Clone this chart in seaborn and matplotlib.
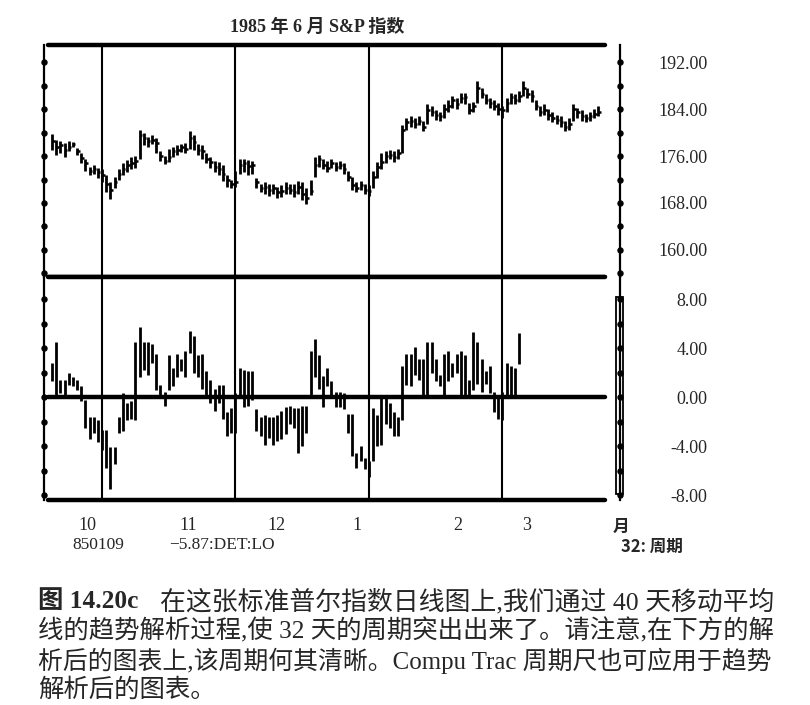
import numpy as np
import matplotlib
matplotlib.use("Agg")
import matplotlib.pyplot as plt
import seaborn as sns
from matplotlib.patches import Rectangle

# S&P daily bars (day 0 = first bar)
price_hi = [179.8, 178.8, 178.5, 178.2, 178.5, 178.4, 177.3, 176.5, 175.5, 174.2,
            174.5, 174.0, 173.8, 172.8, 171.5, 172.5, 173.8, 174.8, 175.3, 175.8,
            176.0, 180.5, 180.0, 179.3, 179.5, 179.0, 176.8, 176.0, 177.2, 177.5,
            177.8, 178.0, 178.2, 180.2, 179.5, 178.0, 177.8, 176.5, 175.8, 175.2,
            175.0, 174.5, 172.8, 172.0, 173.5, 175.5, 175.5, 175.3, 175.2, 172.2,
            171.3, 171.5, 171.2, 171.2, 170.8, 171.0, 171.5, 171.2, 171.2, 171.8,
            171.5, 170.5, 172.0, 175.8, 176.2, 175.5, 175.2, 175.5, 175.0, 175.2,
            174.8, 173.5, 172.5, 171.5, 171.8, 171.2, 171.0, 173.5, 175.0, 176.5,
            176.8, 177.0, 176.8, 177.2, 181.2, 182.5, 182.8, 182.5, 182.8, 182.0,
            184.8, 184.5, 183.8, 183.5, 184.8, 185.5, 186.2, 185.8, 186.8, 186.8,
            185.0, 185.2, 188.8, 187.5, 186.5, 185.8, 185.5, 185.0, 184.5, 185.8,
            186.8, 186.5, 187.0, 188.8, 187.5, 187.2, 185.5, 184.5, 184.8, 184.0,
            183.5, 183.0, 182.8, 182.0, 182.5, 184.8, 184.2, 183.8, 183.2, 183.5,
            184.0, 184.5]
price_lo = [177.0, 176.2, 176.5, 175.8, 176.8, 177.6, 176.2, 174.8, 173.5, 172.8,
            173.0, 172.2, 171.5, 169.8, 168.6, 170.5, 172.0, 172.8, 173.2, 173.8,
            174.0, 175.5, 177.8, 177.5, 178.0, 176.5, 175.2, 174.6, 175.0, 175.8,
            176.2, 176.6, 176.5, 177.2, 177.0, 176.2, 175.5, 174.8, 174.0, 173.2,
            172.8, 171.8, 170.8, 170.5, 170.8, 173.0, 173.2, 172.8, 173.0, 170.5,
            169.8, 169.5, 169.2, 169.5, 168.8, 169.0, 169.5, 169.5, 169.0, 169.5,
            168.5, 167.8, 169.3, 172.5, 174.2, 173.8, 173.2, 174.0, 173.5, 173.8,
            173.0, 171.8, 170.2, 169.8, 170.2, 169.5, 169.2, 170.5, 172.2, 173.8,
            174.8, 175.5, 175.0, 175.5, 176.5, 180.5, 181.0, 180.8, 181.2, 180.2,
            181.5, 182.8, 182.2, 182.0, 182.5, 183.5, 184.2, 184.0, 185.0, 184.8,
            183.2, 183.5, 185.0, 185.8, 184.8, 184.2, 183.8, 183.0, 182.5, 183.5,
            184.8, 184.8, 185.2, 186.2, 185.8, 185.2, 183.8, 182.8, 183.0, 182.2,
            181.8, 181.5, 181.0, 180.2, 180.5, 182.0, 182.5, 182.0, 181.8, 182.0,
            182.5, 182.8]
price_cl = [178.5, 177.5, 177.8, 177.0, 177.5, 178.0, 176.8, 175.6, 174.8, 173.5,
            173.8, 173.2, 172.8, 171.2, 170.2, 171.5, 173.0, 173.8, 174.5, 174.8,
            175.2, 179.5, 179.0, 178.5, 178.8, 178.2, 176.0, 175.2, 175.8, 176.8,
            177.0, 177.5, 177.2, 179.0, 178.3, 177.0, 176.8, 175.5, 175.0, 174.2,
            173.8, 173.0, 172.0, 171.2, 171.5, 174.5, 174.8, 174.3, 174.5, 171.5,
            170.5, 170.8, 170.2, 170.5, 169.8, 170.0, 170.5, 170.2, 169.8, 170.8,
            169.5, 168.8, 170.0, 174.5, 175.5, 174.5, 174.0, 174.8, 174.2, 174.5,
            173.8, 172.5, 171.0, 170.5, 171.0, 170.2, 170.0, 172.5, 174.2, 175.0,
            176.0, 176.2, 175.8, 176.5, 180.5, 181.8, 182.0, 181.5, 182.0, 181.0,
            183.8, 183.5, 183.0, 182.8, 184.0, 184.5, 185.5, 184.8, 185.8, 186.0,
            183.8, 184.5, 187.5, 186.5, 185.5, 185.0, 184.5, 184.0, 183.8, 185.0,
            186.0, 185.5, 186.2, 187.5, 186.5, 186.2, 184.5, 183.5, 183.8, 183.0,
            182.5, 182.2, 181.8, 181.0, 181.5, 184.0, 183.5, 182.8, 182.5, 182.8,
            183.2, 183.5]

# detrended bars (lower panel)
det_hi = [2.8, 4.5, 1.4, 1.4, 2.0, 1.6, 1.4, 0.9, -0.2, -1.6,
          -1.6, -1.9, -2.7, -2.7, -4.1, -4.1, -1.6, 0.3, -0.5, -0.3,
          4.5, 5.7, 4.5, 4.5, 4.3, 3.5, 1.0, 0.4, 3.4, 2.4,
          3.5, 3.1, 3.8, 5.4, 5.0, 3.4, 3.5, 2.1, 1.4, 0.7,
          1.0, 1.0, -1.2, -0.9, 0.3, 2.4, 2.25, 2.1, 2.1, -1.0,
          -1.6, -1.5, -1.6, -1.6, -1.5, -1.1, -0.8, -0.7, -0.9, -0.9,
          -0.7, -0.7, 3.8, 4.75, 3.4, 1.7, 2.4, 1.3, 0.4, 0.4,
          0.3, -1.4, -1.4, -4.6, -4.0, -5.0, -5.25, -0.9, -1.5, 0.0,
          0.0, -0.5, -1.2, -1.6, 2.5, 3.5, 3.5, 4.1, 3.1, 3.1,
          4.5, 4.5, 3.1, 1.8, 3.5, 3.8, 2.8, 3.5, 3.8, 3.4,
          1.4, 5.3, 4.5, 3.1, 2.1, 2.5, 0.4, 0.0, 0.4, 2.8,
          2.5, 2.4, 5.2]
det_lo = [1.3, 0.2, 0.3, -0.1, 1.0, 0.9, 0.6, -0.3, -2.5, -3.4,
          -2.9, -3.7, -4.3, -5.8, -7.5, -5.5, -2.9, -2.8, -1.9, -1.8,
          -1.9, 1.6, 2.2, 1.8, 2.8, 0.6, 0.2, -0.7, 0.6, 0.9,
          1.6, 2.1, 1.6, 3.6, 2.0, 1.6, 0.7, 0.2, -0.5, -1.1,
          -0.5, -1.8, -3.2, -2.9, -2.9, 0.0, -0.8, -0.7, -0.25, -2.75,
          -3.2, -3.9, -3.3, -3.9, -3.6, -3.4, -3.0, -2.2, -2.5, -4.55,
          -4.0, -2.9, 0.2, 1.6, 0.7, -0.8, 0.9, -0.1, -0.8, -0.8,
          -0.95, -2.9, -4.8, -5.8, -5.25, -5.9, -6.5, -5.25, -4.0, -3.9,
          -2.2, -2.5, -3.2, -3.2, -1.9, 1.0, 0.9, 1.8, 1.4, 0.2,
          0.2, 2.0, 1.3, 0.9, 0.2, 1.3, 1.6, 2.0, 0.2, 0.2,
          0.2, 0.6, 1.1, 0.4, 1.1, 0.3, -1.2, -1.8, -1.9, 0.2,
          0.2, 0.2, 2.7]

cycle_lows = [12, 44, 76, 108]
month_pos = [8.6, 32.6, 53.9, 73.1, 97.4, 113.9]
month_lbl = ["10", "11", "12", "1", "2", "3"]
price_ticks = [160, 168, 176, 184, 192]
det_ticks = [-8, -4, 0, 4, 8]

sns.set_theme(style="white")
plt.rcParams["font.family"] = ["Liberation Serif", "Noto Sans CJK SC"]
cjk = ["Noto Sans CJK SC", "DejaVu Sans"]

W, H = 810, 705
fig = plt.figure(figsize=(W / 100, H / 100), dpi=100)


def box(x0, y0, x1, y1):
    return [x0 / W, 1 - y1 / H, (x1 - x0) / W, (y1 - y0) / H]


ax1 = fig.add_axes(box(44, 45, 620, 277))
ax2 = fig.add_axes(box(44, 277, 620, 500))
xlim = (-1.92, 136.2)

days = np.arange(len(price_cl))
ax1.vlines(days, price_lo, price_hi, color="black", lw=2.0)
ax1.hlines(price_cl, days, days + 0.6, color="black", lw=1.8)
ax1.set_ylim(155.4, 194.9)

ddays = np.arange(len(det_hi))
ax2.vlines(ddays, det_lo, det_hi, color="black", lw=2.0)
ax2.set_ylim(-8.4, 9.8)

for ax, ticks, minor in [(ax1, price_ticks, np.arange(156, 193, 4)),
                         (ax2, det_ticks, np.arange(-8, 9, 2))]:
    ax.set_xlim(*xlim)
    sns.despine(ax=ax, top=True, bottom=True, left=False, right=False)
    for side in ["left", "right"]:
        ax.spines[side].set_color("black")
        ax.spines[side].set_linewidth(1.6)
    lo, hi = ax.get_ylim()
    for yv in [lo, hi]:
        ax.axhline(yv, xmin=0.007, xmax=0.974, color="black", lw=3.2, clip_on=False)
    for d in cycle_lows:
        ax.axvline(d, color="black", lw=1.5)
    tr = ax.get_yaxis_transform()
    for xs in [0, 1]:
        ax.plot(np.full(len(minor), xs), minor, "o", color="black", ms=3.6,
                transform=tr, clip_on=False)
    ax.yaxis.tick_right()
    ax.set_yticks(ticks)
    ax.set_yticklabels([f"{v:.2f}" for v in ticks])
    ax.tick_params(axis="y", length=0, pad=63, labelsize=13)
    for lbl in ax.get_yticklabels():
        lbl.set_horizontalalignment("right")
    ax.grid(False)

ax1.set_xticks([])
ax2.axhline(0, xmin=0.007, xmax=0.974, color="black", lw=3.2)
ax2.set_xticks(month_pos)
ax2.set_xticklabels(month_lbl)
ax2.tick_params(axis="x", length=0, pad=12, labelsize=13)
ax2.add_patch(Rectangle((0.993, -7.9), 0.012, 16.1, transform=ax2.get_yaxis_transform(),
                        fill=False, lw=1.3, ec="black", clip_on=False))

fig.text(317 / W, 1 - 27 / H, "1985 年 6 月 S&P 指数", ha="center", va="center",
         fontsize=13, fontweight="bold")
fig.text(98 / W, 1 - 545 / H, "850109", ha="center", va="center", fontsize=12.5)
fig.text(222 / W, 1 - 545 / H, "−5.87:DET:LO", ha="center", va="center", fontsize=12.5)
fig.text(621 / W, 1 - 527 / H, "月", ha="center", va="center", fontsize=12,
         family=cjk, fontweight="bold")
fig.text(652 / W, 1 - 547 / H, "32: 周期", ha="center", va="center", fontsize=12,
         family=cjk, fontweight="bold")

caption = ["在这张标准普尔指数日线图上,我们通过 40 天移动平均",
           "线的趋势解析过程,使 32 天的周期突出出来了。请注意,在下方的解",
           "析后的图表上,该周期何其清晰。Compu Trac 周期尺也可应用于趋势",
           "解析后的图表。"]
cap_sizes = [18.6, 18.3, 17.9, 18.3]
fig.text(38 / W, 1 - 602 / H, "图 14.20c", ha="left", va="center", fontsize=18.3,
         fontweight="bold")
fig.text(160 / W, 1 - 602 / H, caption[0], ha="left", va="center", fontsize=cap_sizes[0])
for i, line in enumerate(caption[1:]):
    fig.text(38 / W, 1 - (631 + 29.5 * i) / H, line, ha="left", va="center",
             fontsize=cap_sizes[i + 1])

fig.savefig("out.png", dpi=100, facecolor="white")
